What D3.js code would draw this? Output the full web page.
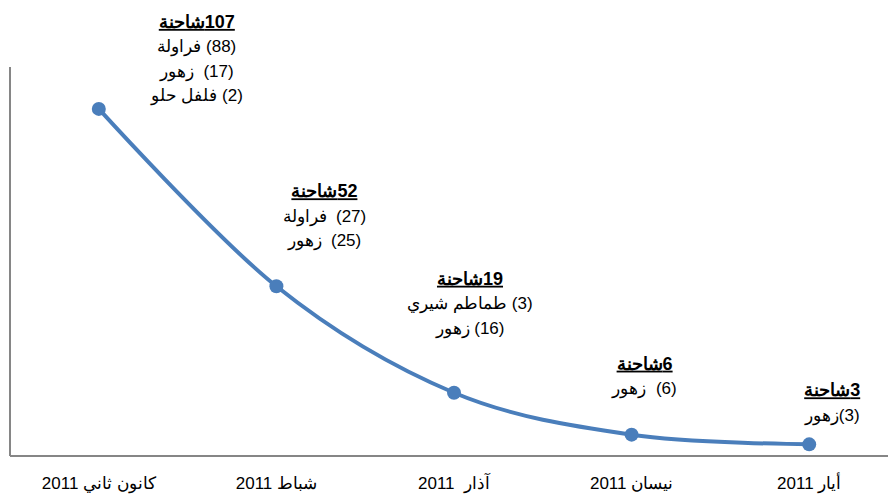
<!DOCTYPE html>
<html>
<head>
<meta charset="utf-8">
<script src="https://cdn.jsdelivr.net/npm/d3@7"></script>
<style>
  body { margin: 0; background: #fff; }
  svg { display: block; font-family: "Liberation Sans", Arial, sans-serif; }
  text { white-space: pre; }
</style>
</head>
<body>
<div id="chart"></div>
<script>
// months (x categories)
const months = ["كانون ثاني 2011", "شباط 2011", "آذار  2011", "نيسان 2011", "أيار 2011"];
// trucks per month
const trucks = [107, 52, 19, 6, 3];
// breakdown per month : [product, trucks]
const details = [
    [["فراولة", 88], ["زهور", 17], ["فلفل حلو", 2]],
    [["فراولة", 27], ["زهور", 25]],
    [["طماطم شيري", 3], ["زهور", 16]],
    [["زهور", 6]],
    [["زهور", 3]]
];
// spacing typed between number and product in the original labels
const gaps = [
    [" ", "  ", " "],
    ["  ", "  "],
    [" ", " "],
    ["  "],
    [""]
];
const unit = "شاحنة";

const width = 888, height = 494;
const color = "#4a7ebb";

// label placement relative to each point (layout only)
const labelDx = [98, 48, 16, 13, 23];
const labelDy = [-81, -89, -108, -65, -48];

const svg = d3.select("#chart").append("svg")
    .attr("width", width)
    .attr("height", height)
    .attr("viewBox", [0, 0, width, height]);

const x = d3.scaleBand(months, [10, 898]).padding(0);
const y = d3.scaleLinear([0, 120], [454, 67]);
const cx = d => x(d) + x.bandwidth() / 2;

// axes lines
svg.append("line")
    .attr("x1", 10).attr("x2", 10)
    .attr("y1", y(120)).attr("y2", 456)
    .attr("stroke", "#868686").attr("stroke-width", 2);
svg.append("line")
    .attr("x1", 10).attr("x2", width)
    .attr("y1", 456).attr("y2", 456)
    .attr("stroke", "#868686").attr("stroke-width", 2);

// category labels
svg.append("g")
  .selectAll("text")
  .data(months)
  .join("text")
    .attr("x", d => cx(d))
    .attr("y", 489)
    .attr("direction", "rtl")
    .attr("text-anchor", "middle")
    .style("font-size", "17px")
    .attr("fill", "#000")
    .text(d => d);

const pts = months.map((m, i) => [cx(m), y(trucks[i])]);

// smoothed line
svg.append("path")
    .attr("d", d3.line().curve(d3.curveCardinal.tension(0))(pts))
    .attr("fill", "none")
    .attr("stroke", color)
    .attr("stroke-width", 4)
    .attr("stroke-linecap", "round");

svg.append("g")
  .selectAll("circle")
  .data(pts)
  .join("circle")
    .attr("cx", d => d[0])
    .attr("cy", d => d[1])
    .attr("r", 7)
    .attr("fill", color);

// data labels
const lab = svg.append("g")
  .selectAll("g")
  .data(months)
  .join("g")
    .attr("transform", (d, i) => `translate(${pts[i][0] + labelDx[i]},${pts[i][1] + labelDy[i]})`);

lab.append("text")
    .attr("direction", "rtl")
    .attr("text-anchor", "middle")
    .style("font-size", "18px")
    .style("font-weight", "bold")
    .style("text-decoration", "underline")
    .text((d, i) => trucks[i] + unit);

lab.each(function (d, i) {
    d3.select(this).selectAll("text.det")
      .data(details[i])
      .join("text")
        .attr("class", "det")
        .attr("y", (e, j) => 24.5 * (j + 1))
        .attr("direction", "rtl")
        .attr("text-anchor", "middle")
        .style("font-size", "17px")
        .text((e, j) => `(${e[1]})${gaps[i][j]}${e[0]}`);
});
</script>
</body>
</html>
